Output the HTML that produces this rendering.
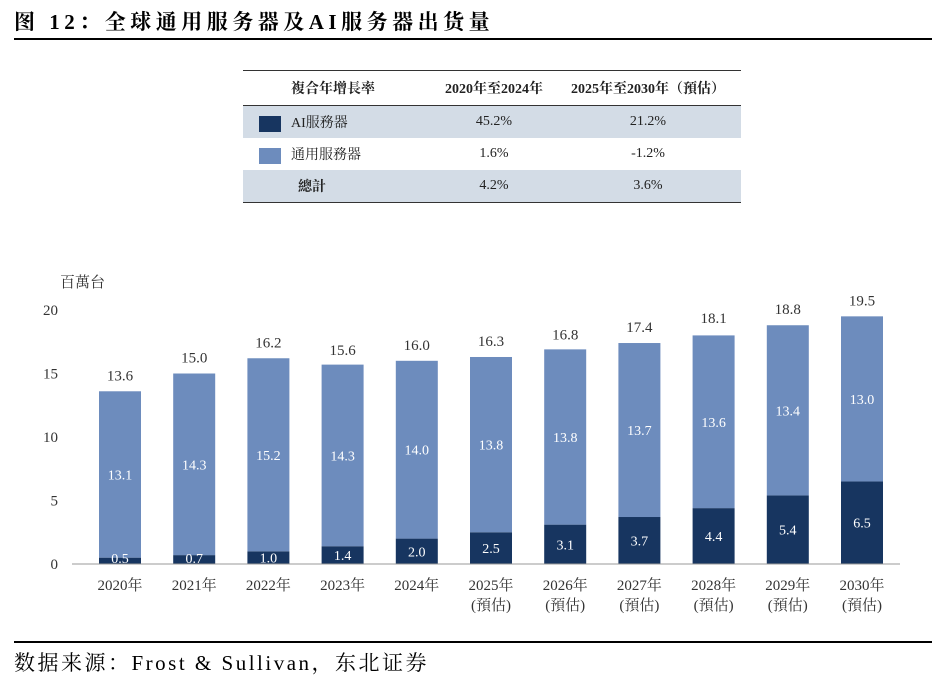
<!DOCTYPE html>
<html><head><meta charset="utf-8">
<style>
body{margin:0;width:946px;height:682px;background:#fff;font-family:"Liberation Serif","Noto Serif CJK SC",serif;position:relative;overflow:hidden}
.title{position:absolute;left:14px;top:6px;font-size:21px;font-weight:bold;color:#000;letter-spacing:4.5px;font-family:"Liberation Serif","Noto Serif CJK SC",serif}
.hr{position:absolute;left:14px;width:918px;height:2px;background:#000}
.foot{position:absolute;left:14px;top:647px;font-size:21px;color:#000;letter-spacing:2.5px}
table{position:absolute;left:243px;top:70px;width:498px;border-collapse:collapse;font-size:14px;color:#222;table-layout:fixed}
td{height:32px;padding:0;white-space:nowrap}
tr.hd td{border-top:1.5px solid #333;border-bottom:1.5px solid #333;font-weight:bold;height:34px}
tr.g td{background:#d3dce6}
tr.last td{border-bottom:1.5px solid #333}
.sw{display:inline-block;width:22px;height:16px;vertical-align:middle;margin:0 10px 0 16px}
</style></head><body>
<div class="title">图 12：全球通用服务器及AI服务器出货量</div>
<div class="hr" style="top:38px"></div>
<table>
<colgroup><col style="width:190px"><col style="width:122px"><col style="width:186px"></colgroup>
<tr class="hd"><td style="padding-left:48px">複合年增長率</td><td style="text-align:center">2020年至2024年</td><td style="text-align:center">2025年至2030年（預估）</td></tr>
<tr class="g"><td><span class="sw" style="background:#173560"></span>AI服務器</td><td style="text-align:center">45.2%</td><td style="text-align:center">21.2%</td></tr>
<tr><td><span class="sw" style="background:#6d8cbd"></span>通用服務器</td><td style="text-align:center">1.6%</td><td style="text-align:center">-1.2%</td></tr>
<tr class="g last"><td style="padding-left:55px;font-weight:bold">總計</td><td style="text-align:center">4.2%</td><td style="text-align:center">3.6%</td></tr>
</table>
<svg id="chart" width="946" height="682" style="position:absolute;left:0;top:0"></svg>
<div class="hr" style="top:641px"></div>
<div class="foot">数据来源：Frost &amp; Sullivan，东北证券</div>
<script>
const years=["2020年","2021年","2022年","2023年","2024年","2025年","2026年","2027年","2028年","2029年","2030年"];
const estimated=[false,false,false,false,false,true,true,true,true,true,true];
const aiValues=[0.5,0.7,1.0,1.4,2.0,2.5,3.1,3.7,4.4,5.4,6.5];
const generalValues=[13.1,14.3,15.2,14.3,14.0,13.8,13.8,13.7,13.6,13.4,13.0];
const totals=[13.6,15.0,16.2,15.6,16.0,16.3,16.8,17.4,18.1,18.8,19.5];
const yTicks=[0,5,10,15,20];
const svg=document.getElementById('chart');const NS='http://www.w3.org/2000/svg';
const y0=564,y1=310,yMax=20;
const yS=v=>y0-(v/yMax)*(y0-y1);
const xC=i=>120+i*74.2;
const bw=42;
function mk(t,a,txt){const e=document.createElementNS(NS,t);for(const k in a)e.setAttribute(k,a[k]);if(txt!==undefined)e.textContent=txt;svg.appendChild(e);return e;}
const font='"Liberation Serif","Noto Serif CJK SC",serif';
let u=mk('text',{x:60,y:287,'font-size':15,'font-family':font,fill:'#333'},'百萬台');


yTicks.forEach(t=>{const e=mk('text',{x:58,y:yS(t)+5,'text-anchor':'end','font-size':15,'font-family':font,fill:'#333'},t);

});
years.forEach((yr,i)=>{
const x=xC(i)-bw/2;
const a=mk('rect',{x:x,y:yS(aiValues[i]),width:bw,height:y0-yS(aiValues[i]),fill:'#173560'});


const gTop=yS(aiValues[i]+generalValues[i]);
const g=mk('rect',{x:x,y:gTop,width:bw,height:yS(aiValues[i])-gTop,fill:'#6d8cbd'});


const la=mk('text',{x:xC(i),y:Math.min(yS(aiValues[i]/2)+5,y0-1),'text-anchor':'middle','font-size':14,'font-family':font,fill:'#fff'},aiValues[i].toFixed(1));


const lg=mk('text',{x:xC(i),y:yS(aiValues[i]+generalValues[i]/2)+5,'text-anchor':'middle','font-size':14,'font-family':font,fill:'#fff'},generalValues[i].toFixed(1));


const lt=mk('text',{x:xC(i),y:yS(totals[i])-11,'text-anchor':'middle','font-size':15,'font-family':font,fill:'#333'},totals[i].toFixed(1));


const lx=mk('text',{x:xC(i),y:590,'text-anchor':'middle','font-size':15,'font-family':font,fill:'#333'},yr);


if(estimated[i]){const le=mk('text',{x:xC(i),y:610,'text-anchor':'middle','font-size':15,'font-family':font,fill:'#333'},'(預估)');

}
});
const ax=mk('line',{x1:72,x2:900,y1:y0,y2:y0,stroke:'#999','stroke-width':1});


</script>
</body></html>
